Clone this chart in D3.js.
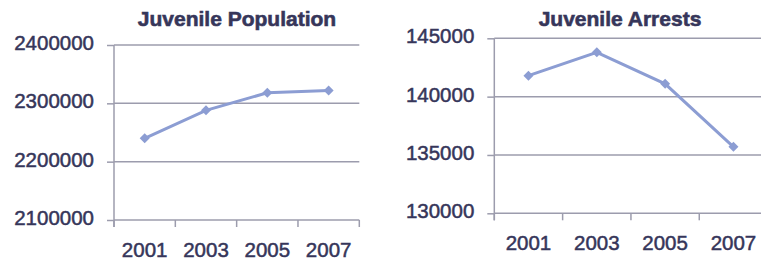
<!DOCTYPE html>
<html>
<head>
<meta charset="utf-8">
<script src="https://cdn.jsdelivr.net/npm/d3@7"></script>
<style>
  body { margin: 0; background: #fff; }
  svg { display: block; }
</style>
</head>
<body>
<svg id="drawing_region"></svg>
<script>
// data
const years = ["2001", "2003", "2005", "2007"];
const population = [2240000, 2288000, 2318000, 2322000];
const arrests = [141800, 143800, 141100, 135700];
const population_ticks = [2100000, 2200000, 2300000, 2400000];
const arrests_ticks = [130000, 135000, 140000, 145000];

const text_color = "#36365a";
const grid_color = "#9c9cad";
const line_color = "#8c9dd3";

const svg = d3.select("#drawing_region")
    .attr("width", 761)
    .attr("height", 260);

class LineChart {

    constructor( config, values, ticks ) {
        this.config = config;
        this.values = values;
        this.ticks = ticks;
        this.init();
    }

    init() {
        let self = this;
        const c = self.config;

        self.chart = svg.append("g");

        self.xscale = d3.scaleBand()
            .domain( years )
            .range( [c.left, c.right] );

        self.yscale = d3.scaleLinear()
            .domain( d3.extent( self.ticks ) )
            .range( [c.bottom, c.top] );

        self.render();
    }

    render() {
        let self = this;
        const c = self.config;

        // y ticks + labels
        const yaxis = d3.axisLeft( self.yscale )
            .tickValues( self.ticks )
            .tickSize( 7 )
            .tickPadding( 13 )
            .tickFormat( d3.format("d") );

        const yg = self.chart.append("g")
            .attr("transform", `translate(${c.left},0)`)
            .call( yaxis );
        yg.select(".domain").remove();
        yg.selectAll(".tick line").attr("stroke", grid_color).attr("stroke-width", 1.5);
        yg.selectAll(".tick text")
            .attr("fill", text_color)
            .attr("stroke", text_color)
            .attr("stroke-width", 0.5)
            .attr("font-family", "Liberation Sans, Arial, sans-serif")
            .attr("font-size", "20.5px")
            .attr("dy", "0.22em");

        // gridlines
        self.chart.append("g").selectAll("line")
            .data( self.ticks )
            .join("line")
            .attr("x1", c.left)
            .attr("x2", c.gridEnd)
            .attr("y1", d => self.yscale(d))
            .attr("y2", d => self.yscale(d))
            .attr("stroke", grid_color)
            .attr("stroke-width", 1.5);

        // y axis line
        self.chart.append("line")
            .attr("x1", c.left).attr("x2", c.left)
            .attr("y1", c.top).attr("y2", c.bottom + 7)
            .attr("stroke", grid_color)
            .attr("stroke-width", 1.5);

        // category ticks at band edges
        const edges = years.map( d => self.xscale(d) ).concat( [ self.xscale.range()[1] ] );
        self.chart.append("g").selectAll("line")
            .data( edges )
            .join("line")
            .attr("x1", d => d).attr("x2", d => d)
            .attr("y1", c.bottom).attr("y2", c.bottom + 7)
            .attr("stroke", grid_color)
            .attr("stroke-width", 1.5);

        // category labels
        const xaxis = d3.axisBottom( self.xscale )
            .tickSize( 0 )
            .tickPadding( 22 );
        const xg = self.chart.append("g")
            .attr("transform", `translate(0,${c.bottom})`)
            .call( xaxis );
        xg.select(".domain").remove();
        xg.selectAll(".tick text")
            .attr("fill", text_color)
            .attr("stroke", text_color)
            .attr("stroke-width", 0.5)
            .attr("font-family", "Liberation Sans, Arial, sans-serif")
            .attr("font-size", "20.5px");

        // series
        const pts = years.map( (d, i) => [ self.xscale(d) + self.xscale.bandwidth() / 2, self.yscale( self.values[i] ) ] );

        self.chart.append("path")
            .attr("d", d3.line()( pts ))
            .attr("fill", "none")
            .attr("stroke", line_color)
            .attr("stroke-width", 3);

        self.chart.append("g").selectAll("path")
            .data( pts )
            .join("path")
            .attr("d", d3.symbol().type(d3.symbolSquare).size(50))
            .attr("transform", d => `translate(${d[0]},${d[1]}) rotate(45)`)
            .attr("fill", line_color);

        // title
        self.chart.append("text")
            .attr("x", c.titleX)
            .attr("y", 26)
            .attr("text-anchor", "middle")
            .attr("fill", text_color)
            .attr("stroke", text_color)
            .attr("stroke-width", 0.6)
            .attr("font-family", "Liberation Sans, Arial, sans-serif")
            .attr("font-size", "21px")
            .attr("font-weight", "bold")
            .text( c.title );
    }
}

new LineChart( {
    title: "Juvenile Population", titleX: 237,
    left: 114, right: 359.3, gridEnd: 359.3, top: 45, bottom: 220
}, population, population_ticks );

new LineChart( {
    title: "Juvenile Arrests", titleX: 620,
    left: 494.3, right: 767.6, gridEnd: 761, top: 38.3, bottom: 213.3
}, arrests, arrests_ticks );
</script>
</body>
</html>
